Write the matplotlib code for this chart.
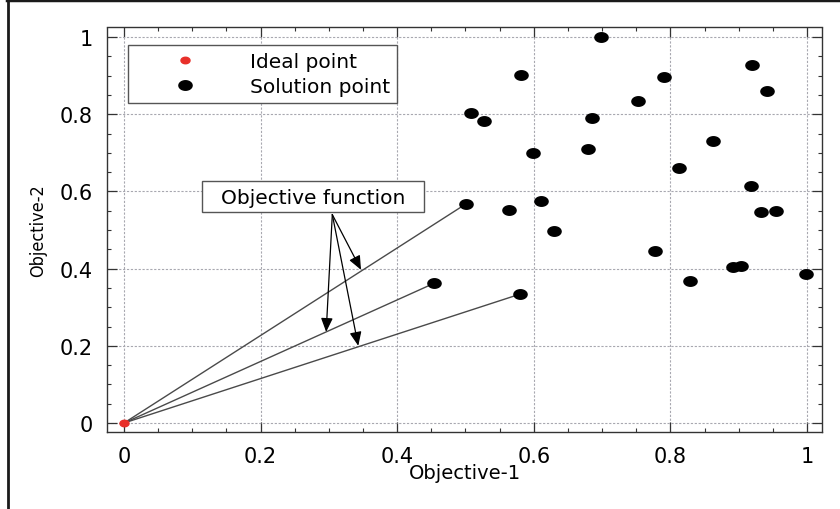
import matplotlib
matplotlib.use("Agg")
import matplotlib.pyplot as plt
from matplotlib.path import Path
from matplotlib.lines import Line2D
from matplotlib.patches import Rectangle
import numpy as np

# ---------------- data ----------------
ideal_x = [0.0]
ideal_y = [0.0]

sol_x = [0.698, 0.920, 0.582, 0.791, 0.942, 0.753, 0.508, 0.527, 0.685, 0.863,
         0.599, 0.679, 0.812, 0.918, 0.501, 0.610, 0.563, 0.933, 0.954, 0.630,
         0.778, 0.892, 0.903, 0.998, 0.829, 0.454, 0.580]
sol_y = [0.999, 0.928, 0.901, 0.897, 0.860, 0.834, 0.803, 0.783, 0.790, 0.731,
         0.699, 0.711, 0.660, 0.615, 0.568, 0.575, 0.552, 0.547, 0.548, 0.498,
         0.445, 0.404, 0.408, 0.386, 0.368, 0.362, 0.334]

objective_idx = [14, 25, 26]   # solutions joined to the ideal point

tick_vals = [0, 0.2, 0.4, 0.6, 0.8, 1.0]
tick_labels = ["0", "0.2", "0.4", "0.6", "0.8", "1"]

legend_labels = ["Ideal point", "Solution point"]
annot_text = "Objective function"
annot_from = (0.305, 0.540)
annot_tips_x = [0.296, 0.343, 0.347]
annot_tips_y = [0.236, 0.200, 0.397]
x_label = "Objective-1"
y_label = "Objective-2"

# ---------------- figure ----------------
fig = plt.figure(figsize=(8.4, 5.1), dpi=100)
ax = fig.add_axes([107/840, 77/510, 715/840, 405/510])

# ellipse marker (wider than tall)
t = np.linspace(0, 2*np.pi, 40)
ell = Path(np.column_stack([np.cos(t), 0.72*np.sin(t)]), closed=True)

# lines from ideal point
for i in objective_idx:
    ax.plot([ideal_x[0], sol_x[i]], [ideal_y[0], sol_y[i]], color="#4a4a4a",
            lw=1.0, zorder=3)

ax.plot(ideal_x, ideal_y, linestyle="none", marker=ell, markersize=6.5,
        color="#e8302a", zorder=5, label=legend_labels[0])
ax.plot(sol_x, sol_y, linestyle="none", marker=ell, markersize=9.5,
        color="black", zorder=5, label=legend_labels[1])

ax.set_xlim(-0.0249, 1.022)
ax.set_ylim(-0.0233, 1.026)

ax.set_xticks(tick_vals)
ax.set_xticklabels(tick_labels)
ax.set_yticks(tick_vals)
ax.set_yticklabels(tick_labels)
ax.set_xticks(np.arange(0, 1.001, 0.05), minor=True)
ax.set_yticks(np.arange(0, 1.001, 0.05), minor=True)
ax.tick_params(which="both", direction="in", top=True, right=True,
               color="#333333")
ax.tick_params(which="major", length=7, width=0.9, labelsize=15, pad=10)
ax.tick_params(which="minor", length=3, width=0.8)

ax.grid(True, which="major", color="#a8a8b0", lw=0.8, linestyle=(0, (2, 1.5)))
for s in ax.spines.values():
    s.set_color("#333333")
    s.set_linewidth(1.0)
    s.set_linestyle((0, (3, 1)))

ax.set_xlabel(x_label, fontsize=14)
ax.xaxis.set_label_coords(0.5, -0.077)
ax.set_ylabel(y_label, fontsize=13, family="DejaVu Sans", stretch="condensed")
ax.yaxis.set_label_coords(-0.084, 0.5)

leg = ax.legend(loc="upper left", bbox_to_anchor=(0.029, 0.956), fontsize=14.5,
                frameon=True, fancybox=False, edgecolor="#555555", framealpha=1,
                borderpad=0.35, handlelength=5.0, handletextpad=0.7,
                labelspacing=0.3, borderaxespad=0)
leg.get_frame().set_linewidth(1.0)
leg.set_zorder(10)

# annotation box
ax.add_patch(Rectangle((0.114, 0.547), 0.325, 0.080, facecolor="white",
                       edgecolor="#555555", lw=1.0, zorder=6))
ax.text(0.2765, 0.585, annot_text, ha="center", va="center", fontsize=14.5,
        zorder=7)
for tx, ty in zip(annot_tips_x, annot_tips_y):
    ax.annotate("", xy=(tx, ty), xytext=annot_from,
                arrowprops=dict(arrowstyle="-|>,head_length=0.7,head_width=0.3",
                                color="black", lw=0.9, mutation_scale=12,
                                shrinkA=0, shrinkB=0), zorder=6)

# outer black frame (top and left)
fig.add_artist(Line2D([8/840, 8/840], [0, 1], transform=fig.transFigure,
                      color="#1a1a1a", lw=2.0))
fig.add_artist(Line2D([7/840, 1], [1 - 1/510, 1 - 1/510], transform=fig.transFigure,
                      color="#1a1a1a", lw=2.5))

fig.savefig("out.png", dpi=100)
